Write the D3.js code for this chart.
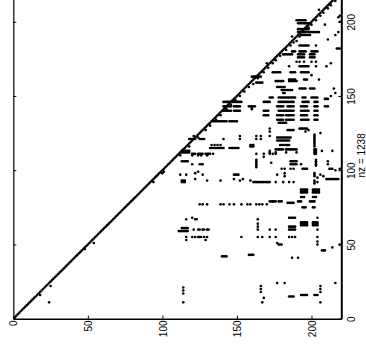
<!DOCTYPE html>
<html><head><meta charset="utf-8">
<script src="https://cdn.jsdelivr.net/npm/d3@7"></script>
<style>html,body{margin:0;padding:0;background:#fff;overflow:hidden}</style>
</head><body>
<svg id="c" width="366" height="354"></svg>
<script>
// ---- data (matrix indices: col = horizontal axis, row = vertical axis) ----
const tickValues = [0, 50, 100, 150, 200];
const axisMax = 220;
const diagonalRange = [1, 219];
const nzLabel = "nz = 1238";

// horizontal runs: [row, colStart, colEnd]
const hRuns = [
 [59,111,117],[61,113,117],[92,113,115],[93,113,115],[106,113,117],
 [112,113,118],[113,113,118],[115,132,141],[115,145,151],
 [117,159,161],[116,159,161],[121,118,122],[121,125,128],
 [111,120,122],[111,124,127],[111,129,131],[104,125,127],[97,148,151],
 [92,161,172],[94,210,218],
 [87,193,197],[86,193,197],[85,193,197],[87,201,205],[86,201,205],[85,201,205],
 [82,193,195],[82,201,203],[78,184,188],[79,178,180],[79,172,176],[79,191,193],[79,199,202],
 [75,194,196],[75,201,202],[68,185,189],[67,122,123],
 [65,193,197],[64,193,197],[63,193,197],[65,201,204],[64,201,204],[63,201,204],
 [62,185,189],[60,185,189],[50,178,180],[46,207,209],[42,140,143],[43,158,161],
 [16,193,197],[16,202,204],[15,185,188],
 [114,176,181],[114,183,190],[114,202,203],[113,202,203],[112,202,203],[111,202,203],
 [117,179,185],[122,177,186],[120,177,185],[127,184,188],[128,192,197],[132,178,183],
 [106,186,190],[104,186,190],[101,194,197],[101,212,214],
 [133,134,143],[133,145,150],
 [134,177,181],[134,183,188],[134,193,198],[134,202,204],
 [137,168,171],[137,177,181],[137,183,188],[137,193,197],[137,202,204],
 [140,141,146],[140,148,152],[140,168,171],[140,178,188],[140,193,198],[140,202,204],
 [143,141,146],[143,148,152],[143,158,162],[143,177,181],[143,184,188],[143,193,197],[143,202,204],[143,209,211],
 [146,141,149],[146,150,153],[146,168,172],[146,178,188],[146,194,198],[146,202,204],
 [149,172,174],[149,178,189],[149,194,196],[149,200,204],[148,209,211],
 [152,181,182],[154,180,187],[155,192,196],[155,199,202],[156,177,182],
 [159,163,167],[160,176,181],[160,185,190],[161,185,189],[161,195,197],[163,160,166],
 [166,174,179],[166,186,189],[166,193,198],[170,192,198],
 [176,191,195],[176,199,202],[178,191,195],[178,199,202],[178,181,187],
 [180,187,189],[180,192,196],[180,200,204],[184,192,198],
 [193,191,200],[195,191,198],[191,193,199],[193,201,205],[199,191,199],[201,190,196],[182,217,219]
];

// vertical runs: [col, rowStart, rowEnd]
const vRuns = [[163,102,107],[202,116,124],[203,103,107],[202,96,98],[202,91,93]];

// isolated nonzeros: [col, row]
const points = [
 [24,11],[18,16],[25,22],[48,47],[54,51],
 [116,53],[114,11],[114,17],[114,19],[114,21],
 [112,97],[116,97],[100,98],[94,92],
 [141,121],[152,121],[163,121],[166,121],[152,123],[163,123],[166,123],
 [133,117],[135,117],[137,117],[139,117],
 [120,110],[124,110],[126,110],[130,110],[132,111],[134,111],[163,111],[168,111],[168,109],
 [120,104],[122,98],[124,99],[127,97],
 [122,94],[130,93],[139,93],[148,94],[152,93],[154,94],[159,93],
 [176,92],[181,92],[185,92],[188,92],[204,92],[204,95],
 [125,77],[127,77],[130,77],[139,77],[141,77],[145,77],[148,77],[153,77],[157,77],[159,77],
 [163,77],[165,77],[167,77],[170,77],[174,79],
 [116,67],[120,68],[164,67],[204,68],[164,64],[164,62],
 [121,60],[124,60],[125,60],[127,60],[128,60],[130,60],[131,60],[164,60],[172,60],[176,60],[204,60],
 [116,55],[120,55],[122,55],[124,55],[125,55],[126,55],[128,55],[130,55],[129,53],[153,55],
 [164,55],[167,55],[172,55],[176,55],[185,55],[187,55],[189,55],[204,55],
 [177,51],[214,48],[219,50],[187,41],[191,41],[177,24],[182,24],[216,24],
 [166,18],[166,20],[166,22],[168,14],[167,11],[206,18],[206,20],[206,22],[206,11],
 [204,50],[204,52],
 [172,128],[172,126],[196,126],[198,127],[172,123],[206,125],
 [172,113],[172,112],[172,111],[174,111],[176,112],[176,111],[183,112],[190,112],[207,113],
 [173,105],[193,104],[211,106],[211,104],
 [180,101],[182,101],[186,101],[188,101],[216,100],[219,101],
 [177,97],[182,98],[182,96],[206,97],[208,96],
 [213,150],[216,152],[215,155],[205,161],[200,164],[213,172],
 [190,173],[192,173],[195,173],[200,173],[203,173],
 [209,198],[218,203],[218,193],[216,191],[211,188],[219,200],[219,204],
 [160,141],[160,142],[214,113],[203,184],[185,170],[203,170],[210,170]
];

// entries next to the diagonal: [col, row]
const nearDiag = [
 [101,99],[112,110],[118,116],[121,123],[124,122],[129,127],[132,130],[136,134],[139,137],
 [143,141],[146,144],[149,147],[152,150],[155,153],[158,156],[161,158],[164,162],[168,166],
 [171,169],[174,172],[176,174],[179,177],[183,181],[186,184],[188,186],[190,187],[192,190],
 [195,193],[198,196],[200,198],[203,201],[206,204],[208,206],[211,209],[213,211],[216,214],
 [170,172],[187,190],[196,199],[205,208]
];

// ---- build entries ----
const entries = [];
d3.range(diagonalRange[0], diagonalRange[1] + 1).forEach(i => entries.push([i, i]));
hRuns.forEach(([r, a, b]) => d3.range(a, b + 1).forEach(c => entries.push([c, r])));
vRuns.forEach(([c, a, b]) => d3.range(a, b + 1).forEach(r => entries.push([c, r])));
points.forEach(p => entries.push(p));
nearDiag.forEach(p => entries.push(p));

// ---- drawing ----
const svg = d3.select("#c");
const x = d3.scaleLinear().domain([0, axisMax]).range([13.3, 341.3]);
const y = d3.scaleLinear().domain([0, axisMax]).range([318.7, -8]);

svg.append("g").selectAll("circle").data(entries).join("circle")
  .attr("cx", d => x(d[0])).attr("cy", d => y(d[1])).attr("r", 1.3).attr("fill", "#000");

const font = "'Liberation Sans', Arial, sans-serif";

// bottom axis
const gb = svg.append("g").attr("transform", `translate(0,${y(0)})`)
  .call(d3.axisBottom(x).tickValues(tickValues).tickSize(-3).tickSizeOuter(0));
gb.select(".domain").attr("stroke-width", 1.4);
gb.selectAll(".tick line").attr("stroke-width", 1);
gb.selectAll(".tick text").attr("transform", "rotate(-90)")
  .attr("x", -1.8).attr("y", 3.6).attr("dy", 0).attr("text-anchor", "end")
  .attr("font-family", font).attr("font-size", 10).attr("fill", "#000");

// left axis (no labels)
const gl = svg.append("g").attr("transform", `translate(${x(0)},0)`)
  .call(d3.axisLeft(y).tickValues(tickValues).tickSize(-3).tickSizeOuter(0).tickFormat(""));
gl.select(".domain").attr("stroke-width", 1.2);

// top axis (outside the visible window)
svg.append("g").attr("transform", `translate(0,${y(axisMax)})`)
  .call(d3.axisTop(x).tickValues(tickValues).tickSize(-3).tickSizeOuter(0).tickFormat(""));

// right axis
const gr = svg.append("g").attr("transform", `translate(${x(axisMax)},0)`)
  .call(d3.axisRight(y).tickValues(tickValues).tickSize(-3).tickSizeOuter(0));
gr.select(".domain").attr("stroke-width", 2);
gr.selectAll(".tick text").attr("transform", "rotate(-90)")
  .attr("x", 0).attr("y", 13.7).attr("dy", 0).attr("text-anchor", "middle")
  .attr("font-family", font).attr("font-size", 10).attr("fill", "#000");

// nz label
svg.append("text")
  .attr("transform", `translate(365,${y(axisMax / 2)}) rotate(-90)`)
  .attr("text-anchor", "middle").attr("font-family", font).attr("font-size", 10)
  .text(nzLabel);
</script>
</body></html>
